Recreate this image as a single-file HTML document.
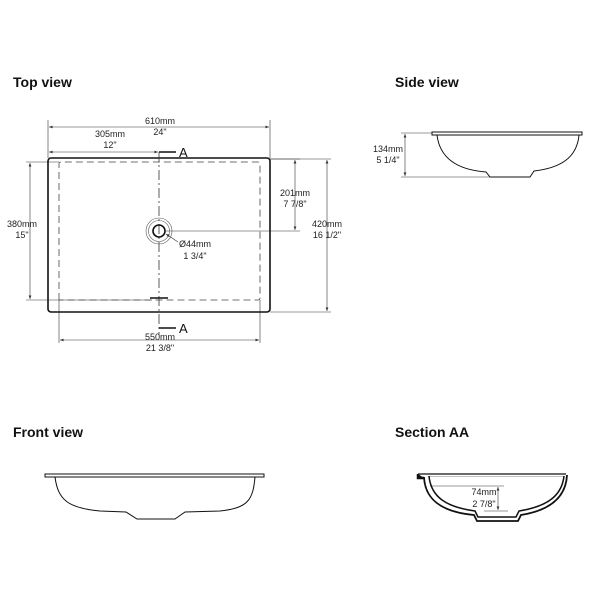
<!DOCTYPE html>
<html><head><meta charset="utf-8">
<style>
html,body{margin:0;padding:0;background:#fff;}
svg{display:block;}
.t{font-family:"Liberation Sans Narrow","Liberation Sans",sans-serif;font-weight:bold;font-size:14px;fill:#111;}
.d{font-family:"Liberation Sans Narrow","Liberation Sans",sans-serif;font-size:9px;fill:#222;text-anchor:middle;}
.a{font-family:"Liberation Sans",sans-serif;font-size:13px;fill:#111;}
</style></head><body>
<svg width="600" height="600" viewBox="0 0 600 600" xmlns="http://www.w3.org/2000/svg">
<defs>
<marker id="ar" viewBox="0 0 10 10" refX="10" refY="5" markerWidth="6" markerHeight="6" orient="auto-start-reverse"><path d="M0,1 L10,5 L0,9 z" fill="#333"/></marker>
</defs>
<text class="t" x="13" y="87">Top view</text>
<text class="t" x="395" y="87">Side view</text>
<text class="t" x="13" y="437">Front view</text>
<text class="t" x="395" y="437">Section AA</text>

<!-- Top view -->
<g stroke="#333" stroke-width="0.6" fill="none">
<line x1="48" y1="120" x2="48" y2="158"/><line x1="270" y1="120" x2="270" y2="158"/>
<line x1="49" y1="127" x2="269" y2="127" marker-start="url(#ar)" marker-end="url(#ar)"/>
<line x1="49" y1="152" x2="158" y2="152" marker-start="url(#ar)" marker-end="url(#ar)"/>
<line x1="26" y1="162" x2="59" y2="162"/><line x1="26" y1="300" x2="152" y2="300"/>
<line x1="30" y1="163" x2="30" y2="299" marker-start="url(#ar)" marker-end="url(#ar)"/>
<line x1="270" y1="159" x2="300" y2="159"/><line x1="166" y1="231" x2="300" y2="231"/>
<line x1="295" y1="160" x2="295" y2="230" marker-start="url(#ar)" marker-end="url(#ar)"/>
<line x1="270" y1="312" x2="331" y2="312"/><line x1="270" y1="159" x2="331" y2="159"/>
<line x1="327" y1="160" x2="327" y2="311" marker-start="url(#ar)" marker-end="url(#ar)"/>
<line x1="59" y1="300" x2="59" y2="343"/><line x1="260" y1="300" x2="260" y2="343"/>
<line x1="60" y1="340" x2="259" y2="340" marker-start="url(#ar)" marker-end="url(#ar)"/>
</g>
<rect x="48" y="158" width="222" height="154" rx="3" fill="none" stroke="#111" stroke-width="1.6"/>
<path d="M59,300 L59,164 Q59,162 61,162 L258,162 Q260,162 260,164 L260,298 Q260,300 258,300 Z" fill="none" stroke="#444" stroke-width="0.8" stroke-dasharray="7,4"/>
<line x1="159" y1="152" x2="159" y2="335" stroke="#333" stroke-width="0.8" stroke-dasharray="10,3,2,3"/>
<line x1="159" y1="152" x2="176" y2="152" stroke="#111" stroke-width="1.6"/>
<line x1="159" y1="328" x2="176" y2="328" stroke="#111" stroke-width="1.6"/>
<line x1="150" y1="298" x2="168" y2="298" stroke="#111" stroke-width="1.4"/>
<text class="a" x="179" y="157">A</text>
<text class="a" x="179" y="333">A</text>
<circle cx="159" cy="231" r="13" fill="none" stroke="#555" stroke-width="0.6"/>
<circle cx="159" cy="231" r="10.5" fill="none" stroke="#555" stroke-width="0.6"/>
<circle cx="159" cy="231" r="6" fill="none" stroke="#111" stroke-width="1.6"/>
<line x1="178" y1="242" x2="166" y2="234" stroke="#333" stroke-width="0.6" marker-end="url(#ar)"/>
<text class="d" x="160" y="124">610mm</text><text class="d" x="160" y="135">24"</text>
<text class="d" x="110" y="137">305mm</text><text class="d" x="110" y="148">12"</text>
<text class="d" x="22" y="227">380mm</text><text class="d" x="22" y="238">15"</text>
<text class="d" x="295" y="196">201mm</text><text class="d" x="295" y="207">7 7/8"</text>
<text class="d" x="327" y="227">420mm</text><text class="d" x="327" y="238">16 1/2"</text>
<text class="d" x="195" y="247">Ø44mm</text><text class="d" x="195" y="259">1 3/4"</text>
<text class="d" x="160" y="340">550mm</text><text class="d" x="160" y="351">21 3/8"</text>

<!-- Side view -->
<g stroke="#333" stroke-width="0.6" fill="none">
<line x1="401" y1="133" x2="432" y2="133"/><line x1="401" y1="177" x2="490" y2="177"/>
<line x1="405" y1="134" x2="405" y2="176" marker-start="url(#ar)" marker-end="url(#ar)"/>
</g>
<rect x="432" y="132" width="150" height="3" fill="#fff" stroke="#111" stroke-width="1"/>
<path d="M437,135 C440,160 460,170 486,172 L490,177 L530,177 L534,171 C560,168 577,158 579,135" fill="none" stroke="#111" stroke-width="1"/>
<text class="d" x="388" y="152">134mm</text><text class="d" x="388" y="163">5 1/4"</text>

<!-- Front view -->
<rect x="45" y="474" width="219" height="3" fill="#fff" stroke="#111" stroke-width="1"/>
<path d="M55,477 C58,500 68,508 100,511 L126,512 L137,519 L175,519 L185,512 L220,511 C248,508 253,500 255,477" fill="none" stroke="#111" stroke-width="1"/>

<!-- Section AA -->
<g stroke="#333" stroke-width="0.6" fill="none">
<line x1="430" y1="486" x2="504" y2="486"/>
<line x1="498" y1="487" x2="498" y2="510" marker-start="url(#ar)" marker-end="url(#ar)"/>
<line x1="484" y1="511" x2="508" y2="511"/>
</g>
<line x1="418" y1="474" x2="566" y2="474" stroke="#111" stroke-width="1.2"/>
<line x1="428" y1="476.5" x2="565" y2="476.5" stroke="#888" stroke-width="0.6"/>
<path d="M418,474 L418,478 L424,478" fill="#111" stroke="#111" stroke-width="2.5"/>
<path d="M424,477 C425,500 442,512 474,515 L477,521 L518,521 L521,515 C552,510 566,496 567,475" fill="none" stroke="#111" stroke-width="1.8"/>
<path d="M429,476 C431,497 446,507 475,511 L478,517 L516,517 L519,511 C550,506 562,494 564,476" fill="none" stroke="#111" stroke-width="1.5"/>
<text class="d" x="484" y="495">74mm</text><text class="d" x="484" y="507">2 7/8"</text>
</svg>
</body></html>
